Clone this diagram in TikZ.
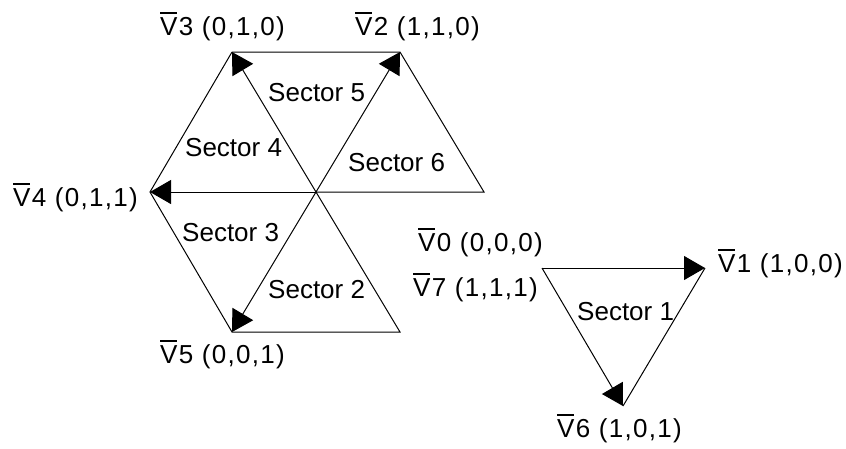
\documentclass[tikz,border=0pt]{standalone}
\usepackage{fontspec}
\setmainfont{Liberation Sans}
\newfontfamily\labfont[LetterSpace=5]{Liberation Sans}
\usetikzlibrary{arrows.meta}
\newcommand\vbar[1]{\leavevmode\rlap{\rule[0.82em]{0.64em}{1.6pt}}V#1}
\begin{document}
\begin{tikzpicture}[x=1pt,y=-1pt,
  ln/.style={draw=black,line width=1pt},
  vec/.style={ln,-{Triangle[length=21pt,width=24pt]}},
  lab/.style={anchor=base west,inner sep=0pt,font=\fontsize{26}{30}\selectfont},
  vlab/.style={lab,font=\labfont\fontsize{26}{30}\selectfont}]
\useasboundingbox (0,0) rectangle (846,448);
% hexagon
\coordinate (O) at (316,192);
\coordinate (V3) at (232,52);
\coordinate (V2) at (400,52);
\coordinate (R) at (484,192);
\coordinate (V4) at (150,192);
\coordinate (V5) at (232,332);
\coordinate (BR) at (400,332);
% triangle
\coordinate (V0) at (542,268);
\coordinate (V1) at (705,268);
\coordinate (V6) at (623,406);
\draw[ln] (V3) -- (V2) -- (R) -- (O);
\draw[ln] (V3) -- (V4) -- (V5) -- (BR) -- (O);
\draw[ln] (V1) -- (V6);
\draw[vec] (O) -- (V3);
\draw[vec] (O) -- (V2);
\draw[vec] (O) -- (V4);
\draw[vec] (O) -- (V5);
\draw[vec] (V0) -- (V1);
\draw[vec] (V0) -- (V6);
% labels
\node[vlab] (l3) at (160,35) {\vbar{3} (0,1,0)};
\node[vlab] (l2) at (355,35) {\vbar{2} (1,1,0)};
\node[vlab] (l4) at (13,206) {\vbar{4} (0,1,1)};
\node[vlab] (l5) at (160,363) {\vbar{5} (0,0,1)};
\node[vlab] (l0) at (418,251) {\vbar{0} (0,0,0)};
\node[vlab] (l7) at (413,296) {\vbar{7} (1,1,1)};
\node[vlab] (l1) at (718,272) {\vbar{1} (1,0,0)};
\node[vlab] (l6) at (557,437) {\vbar{6} (1,0,1)};
\node[lab] (s5) at (268,101) {Sector 5};
\node[lab] (s4) at (185,156) {Sector 4};
\node[lab] (s6) at (348,171) {Sector 6};
\node[lab] (s3) at (182,241) {Sector 3};
\node[lab] (s2) at (268,298) {Sector 2};
\node[lab] (s1) at (577,320) {Sector 1};
\end{tikzpicture}
\end{document}
